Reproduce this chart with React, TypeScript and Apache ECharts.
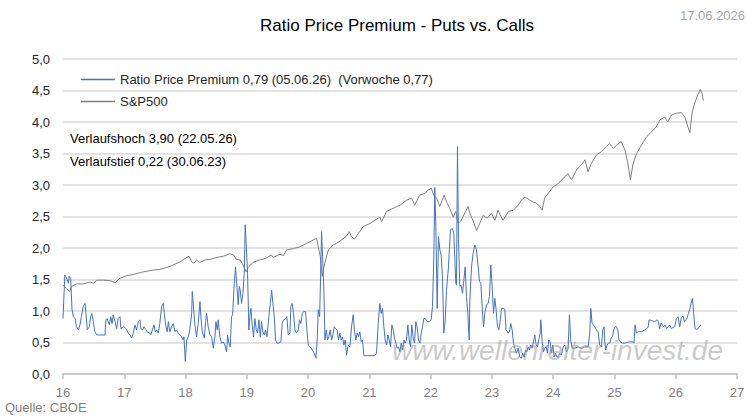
import React, { useEffect, useRef } from "react";
import * as echarts from "echarts";

const TITLE = "Ratio Price Premium - Puts vs. Calls";
const DATE_LABEL = "17.06.2026";
const SOURCE = "Quelle: CBOE";
const WATERMARK = "www.wellenreiter-invest.de";
const NOTE_HIGH = "Verlaufshoch 3,90 (22.05.26)";
const NOTE_LOW = "Verlaufstief 0,22 (30.06.23)";
const RATIO_NAME = "Ratio Price Premium 0,79 (05.06.26)  (Vorwoche 0,77)";
const SPX_NAME = "S&P500";

const X_TICKS = [16, 17, 18, 19, 20, 21, 22, 23, 24, 25, 26, 27];
const Y_TICKS = [0, 0.5, 1, 1.5, 2, 2.5, 3, 3.5, 4, 4.5, 5];

const ratioYears = [
  16.0, 16.03, 16.06, 16.09, 16.1, 16.125, 16.147, 16.17, 16.196, 16.22, 16.25, 16.277, 16.3, 16.33, 16.36, 16.375, 16.397, 16.43, 16.45, 16.47, 16.495, 16.52, 16.55, 16.62, 16.685, 16.7, 16.72, 16.756, 16.78, 16.8, 16.82, 16.85, 16.875, 16.9, 16.93, 16.946, 16.984,
  17.01, 17.04, 17.066, 17.093, 17.12, 17.147, 17.175, 17.2, 17.23, 17.256, 17.27, 17.3, 17.32, 17.354, 17.376, 17.41, 17.43, 17.46, 17.485, 17.506, 17.528, 17.555, 17.58, 17.61, 17.636, 17.653, 17.68, 17.7, 17.72, 17.745, 17.77, 17.8, 17.827, 17.85, 17.88, 17.908, 17.935, 17.963, 17.974, 17.996,
  18.02, 18.045, 18.07, 18.1, 18.11, 18.153, 18.18, 18.207, 18.235, 18.25, 18.273, 18.306, 18.327, 18.344, 18.37, 18.398, 18.425, 18.452, 18.48, 18.496, 18.517, 18.534, 18.56, 18.588, 18.615, 18.642, 18.67, 18.686, 18.708, 18.73, 18.75, 18.768, 18.795, 18.816, 18.838, 18.86, 18.876, 18.892, 18.914, 18.936, 18.958, 18.974, 18.99,
  19.012, 19.034, 19.05, 19.067, 19.088, 19.11, 19.132, 19.154, 19.175, 19.197, 19.22, 19.24, 19.263, 19.285, 19.306, 19.328, 19.36, 19.383, 19.405, 19.426, 19.448, 19.47, 19.49, 19.524, 19.556, 19.578, 19.6, 19.633, 19.654, 19.676, 19.703, 19.72, 19.74, 19.763, 19.785, 19.81, 19.84, 19.86, 19.883, 19.905, 19.926, 19.959, 19.98,
  20.003, 20.036, 20.068, 20.1, 20.128, 20.15, 20.166, 20.188, 20.204, 20.22, 20.237, 20.258, 20.275, 20.297, 20.318, 20.34, 20.36, 20.384, 20.405, 20.427, 20.448, 20.475, 20.497, 20.519, 20.54, 20.562, 20.584, 20.606, 20.628, 20.655, 20.682, 20.709, 20.736, 20.758, 20.78, 20.801, 20.823, 20.845, 20.867, 20.888, 20.91,
  21.09, 21.117, 21.144, 21.171, 21.193, 21.215, 21.237, 21.258, 21.28, 21.302, 21.324, 21.345, 21.367, 21.389, 21.41, 21.432, 21.454, 21.476, 21.498, 21.52, 21.541, 21.563, 21.585, 21.606, 21.628, 21.65, 21.672, 21.693, 21.715, 21.737, 21.759, 21.78, 21.802, 21.824, 21.846, 21.867, 21.889, 21.911, 21.943, 21.976,
  22.009, 22.03, 22.052, 22.068, 22.085, 22.107, 22.128, 22.15, 22.172, 22.193, 22.215, 22.237, 22.259, 22.291, 22.324, 22.357, 22.378, 22.4, 22.411, 22.422, 22.438, 22.455, 22.476, 22.498, 22.52, 22.542, 22.563, 22.585, 22.607, 22.629, 22.64, 22.667, 22.694, 22.721, 22.748, 22.776, 22.797, 22.819, 22.841, 22.863, 22.884, 22.911, 22.939, 22.96, 22.982,
  23.004, 23.026, 23.047, 23.069, 23.091, 23.113, 23.134, 23.156, 23.183, 23.21, 23.232, 23.265, 23.287, 23.308, 23.33, 23.352, 23.374, 23.401, 23.428, 23.455, 23.482, 23.504, 23.526, 23.548, 23.569, 23.591, 23.613, 23.635, 23.656, 23.678, 23.7, 23.722, 23.743, 23.765, 23.787, 23.798, 23.82, 23.841, 23.863, 23.885, 23.907, 23.928, 23.95, 23.972, 23.994,
  24.015, 24.037, 24.059, 24.081, 24.108, 24.135, 24.162, 24.189, 24.217, 24.244, 24.265, 24.287, 24.309, 24.352, 24.407, 24.461, 24.516, 24.57, 24.597, 24.614, 24.635, 24.657, 24.679, 24.706, 24.733, 24.76, 24.788, 24.809, 24.831, 24.842, 24.858, 24.88, 24.901, 24.923, 24.945, 24.967, 24.988,
  25.01, 25.032, 25.054, 25.075, 25.097, 25.13, 25.168, 25.195, 25.249, 25.304, 25.32, 25.336, 25.358, 25.385, 25.44, 25.494, 25.521, 25.549, 25.565, 25.603, 25.657, 25.695, 25.717, 25.739, 25.761, 25.782, 25.804, 25.826, 25.848, 25.875, 25.902, 25.929, 25.956, 25.983,
  26.011, 26.038, 26.065, 26.092, 26.119, 26.141, 26.163, 26.185, 26.206, 26.228, 26.25, 26.272, 26.293, 26.315, 26.337, 26.364, 26.391, 26.413,
];

const ratioValues = [
  0.88, 1.57, 1.52, 1.44, 1.55, 1.52, 1.02, 0.91, 0.88, 0.75, 0.7, 0.78, 0.91, 1.07, 1.12, 0.96, 0.7, 0.75, 0.91, 0.96, 0.83, 0.67, 0.62, 0.62, 0.62, 0.86, 0.88, 0.78, 0.91, 0.8, 0.94, 0.83, 0.72, 0.88, 0.91, 0.72, 0.75,
  0.74, 0.7, 0.65, 0.62, 0.57, 0.65, 0.78, 0.7, 0.83, 0.86, 0.72, 0.7, 0.75, 0.7, 0.67, 0.65, 0.62, 0.7, 0.78, 0.67, 0.7, 0.65, 0.8, 1.07, 1.12, 0.96, 0.75, 0.67, 0.83, 0.67, 0.75, 0.8, 0.67, 0.7, 0.65, 0.62, 0.59, 0.54, 0.59, 0.2,
  0.54, 0.59, 0.7, 0.96, 1.31, 0.78, 0.59, 0.8, 1.15, 0.91, 0.67, 0.57, 0.83, 0.96, 0.75, 0.62, 0.59, 0.41, 0.59, 0.83, 0.7, 0.86, 0.59, 0.49, 0.51, 0.46, 0.35, 0.62, 0.49, 0.43, 0.91, 0.94, 1.44, 1.7, 1.39, 1.1, 1.39, 1.33, 1.12, 1.28, 1.6, 2.37, 2.07,
  1.6, 0.7, 0.91, 1.04, 0.78, 0.59, 0.88, 0.7, 0.65, 0.86, 0.59, 0.83, 0.67, 0.62, 0.7, 0.59, 0.91, 1.12, 1.33, 1.12, 0.91, 0.54, 0.49, 0.49, 0.51, 0.8, 0.86, 0.88, 0.91, 0.62, 0.65, 1.07, 1.12, 0.96, 0.7, 0.65, 0.7, 0.86, 0.8, 0.96, 0.99, 0.99, 0.7,
  0.46, 0.43, 0.38, 0.33, 0.25, 0.59, 1.02, 0.91, 1.54, 2.26, 1.86, 1.33, 0.54, 0.7, 0.54, 0.59, 0.7, 0.54, 0.62, 0.75, 0.72, 0.7, 0.54, 0.65, 0.54, 0.59, 0.46, 0.54, 0.3, 0.46, 0.43, 0.75, 0.94, 0.67, 0.54, 0.65, 0.59, 0.67, 0.51, 0.54, 0.29,
  0.29, 0.33, 0.8, 1.12, 0.96, 1.04, 0.75, 0.54, 0.46, 0.62, 0.54, 0.43, 0.78, 0.7, 0.57, 0.49, 0.41, 0.43, 0.35, 0.49, 0.38, 0.54, 0.49, 0.54, 0.78, 0.54, 0.43, 0.78, 0.57, 0.49, 0.83, 0.75, 0.54, 0.49, 0.65, 0.75, 0.88, 0.88, 0.83, 0.83,
  0.86, 1.07, 1.86, 2.96, 2.34, 1.04, 2.18, 1.97, 1.89, 1.54, 0.65, 0.83, 1.33, 1.7, 2.29, 2.31, 2.23, 1.7, 1.44, 1.41, 3.61, 2.13, 1.39, 1.41, 1.28, 1.49, 1.7, 1.23, 0.96, 0.54, 1.17, 1.7, 1.92, 2.05, 1.97, 1.7, 1.47, 1.44, 1.07, 0.75, 0.96, 1.1, 1.12, 1.23, 1.73,
  1.39, 0.96, 1.2, 1.02, 0.75, 0.7, 0.83, 1.04, 1.04, 1.03, 0.7, 0.65, 0.67, 0.8, 0.7, 0.49, 0.41, 0.33, 0.41, 0.27, 0.25, 0.33, 0.27, 0.38, 0.35, 0.43, 0.38, 0.46, 0.41, 0.51, 0.62, 0.46, 0.43, 0.54, 0.65, 0.86, 0.51, 0.35, 0.41, 0.43, 0.33, 0.54, 0.51, 0.33, 0.46,
  0.27, 0.33, 0.27, 0.27, 0.33, 0.3, 0.43, 0.46, 0.35, 0.41, 0.94, 0.54, 0.41, 0.41, 0.43, 0.41, 0.43, 0.43, 0.65, 1.04, 0.8, 0.78, 0.75, 0.7, 0.67, 0.46, 0.43, 0.7, 0.75, 0.51, 0.38, 0.46, 0.49, 0.49, 0.57, 0.59, 0.7,
  0.75, 0.75, 0.7, 0.54, 0.51, 0.49, 0.49, 0.5, 0.51, 0.51, 0.49, 0.78, 0.65, 0.67, 0.67, 0.7, 0.72, 0.74, 0.86, 0.85, 0.83, 0.86, 0.83, 0.72, 0.81, 0.78, 0.75, 0.78, 0.72, 0.75, 0.78, 0.72, 0.74, 0.75,
  0.88, 0.91, 0.75, 0.9, 0.92, 0.83, 0.86, 0.88, 0.96, 1.02, 1.12, 1.2, 0.96, 0.72, 0.71, 0.72, 0.76, 0.78,
];

const spxYears = [
  16.0, 16.055, 16.11, 16.14, 16.22, 16.33, 16.44, 16.5, 16.55, 16.66, 16.77, 16.85, 16.93,
  17.04, 17.15, 17.26, 17.36, 17.47, 17.58, 17.69, 17.8, 17.91,
  18.02, 18.06, 18.1, 18.14, 18.18, 18.23, 18.32, 18.4, 18.51, 18.62, 18.72, 18.78, 18.83, 18.89, 18.94, 18.99,
  19.02, 19.1, 19.21, 19.32, 19.4, 19.43, 19.54, 19.6, 19.65, 19.76, 19.866, 19.97,
  20.11, 20.14, 20.165, 20.2, 20.23, 20.27, 20.33, 20.41, 20.46, 20.55, 20.63, 20.67, 20.71, 20.76, 20.82, 20.9,
  21.01, 21.09, 21.17, 21.2, 21.28, 21.39, 21.5, 21.61, 21.69, 21.74, 21.82, 21.91, 21.96,
  22.01, 22.05, 22.1, 22.15, 22.22, 22.26, 22.31, 22.37, 22.41, 22.45, 22.5, 22.57, 22.61, 22.65, 22.69, 22.75, 22.8, 22.86, 22.92, 22.99,
  23.05, 23.1, 23.18, 23.27, 23.35, 23.43, 23.48, 23.54, 23.62, 23.67, 23.73, 23.78, 23.82, 23.86, 23.92,
  24.0, 24.08, 24.16, 24.24, 24.3, 24.38, 24.46, 24.52, 24.57, 24.62, 24.71, 24.79, 24.87, 24.92, 24.98,
  25.03, 25.11, 25.17, 25.22, 25.26, 25.3, 25.36, 25.44, 25.52, 25.6, 25.68, 25.74, 25.82, 25.87, 25.93,
  26.01, 26.09, 26.15, 26.2, 26.23, 26.27, 26.31, 26.36, 26.4, 26.43, 26.45,
];

const spxValues = [
  1.41, 1.36, 1.31, 1.39, 1.43, 1.43, 1.46, 1.44, 1.49, 1.49, 1.48, 1.45, 1.52,
  1.56, 1.58, 1.61, 1.63, 1.65, 1.66, 1.69, 1.73, 1.78,
  1.85, 1.87, 1.78, 1.76, 1.81, 1.77, 1.81, 1.82, 1.85, 1.87, 1.91, 1.89, 1.82, 1.81, 1.73, 1.62,
  1.69, 1.77, 1.81, 1.84, 1.89, 1.85, 1.9, 1.88, 1.97, 1.99, 2.02, 2.07,
  2.14, 2.15, 2.02, 1.86, 1.55, 1.75, 1.97, 2.05, 2.07, 2.13, 2.19, 2.26, 2.18, 2.14, 2.23, 2.34,
  2.39, 2.44, 2.49, 2.42, 2.58, 2.63, 2.68, 2.76, 2.79, 2.68, 2.84, 2.87, 2.92,
  2.95, 2.84, 2.79, 2.66, 2.84, 2.73, 2.63, 2.49, 2.58, 2.39, 2.44, 2.58, 2.66, 2.52, 2.44, 2.28, 2.39, 2.52, 2.47, 2.55,
  2.44, 2.6, 2.44, 2.58, 2.6, 2.68, 2.76, 2.81, 2.76, 2.73, 2.71, 2.66, 2.6, 2.79, 2.87,
  2.97, 3.02, 3.1, 3.18, 3.08, 3.24, 3.32, 3.4, 3.21, 3.34, 3.48, 3.53, 3.61, 3.66, 3.58,
  3.63, 3.69, 3.56, 3.34, 3.08, 3.32, 3.5, 3.63, 3.76, 3.84, 3.92, 4.03, 4.08, 4.0, 4.11,
  4.14, 4.15, 4.08, 3.92, 3.83, 4.16, 4.3, 4.43, 4.52, 4.45, 4.34,
];

const ratioData = ratioYears.map((x, i) => [x, ratioValues[i]]);
const spxData = spxYears.map((x, i) => [x, spxValues[i]]);

const FONT = "Liberation Sans, Arial, sans-serif";
const NARROW = "Liberation Sans Narrow, Liberation Sans, Arial, sans-serif";
const BLUE = "#4472c4";
const GRAY = "#7f7f7f";

export default function App() {
  const ref = useRef<HTMLDivElement>(null);

  useEffect(() => {
    if (!ref.current) return;
    const chart = echarts.init(ref.current, undefined, { renderer: "svg" });
    chart.setOption({
      animation: false,
      backgroundColor: "#ffffff",
      textStyle: { fontFamily: FONT },
      grid: { left: 63, right: 11, top: 59, bottom: 44, containLabel: false },
      legend: {
        orient: "vertical",
        left: 76,
        top: 67,
        icon: "rect",
        itemWidth: 34,
        itemHeight: 1.5,
        itemGap: 7,
        textStyle: { fontSize: 13, color: "#262626", fontFamily: FONT, lineHeight: 15 },
        data: [
          { name: RATIO_NAME, itemStyle: { color: BLUE } },
          { name: SPX_NAME, itemStyle: { color: GRAY } },
        ],
      },
      xAxis: {
        type: "value",
        min: X_TICKS[0],
        max: X_TICKS[X_TICKS.length - 1],
        interval: 1,
        axisLine: { show: true, lineStyle: { color: "#bfbfbf", width: 1.5 } },
        axisTick: { show: true, length: 5, lineStyle: { color: "#bfbfbf", width: 1.5 } },
        axisLabel: { color: "#7f7f7f", fontSize: 13, fontFamily: NARROW, margin: 12 },
        splitLine: { show: false },
      },
      yAxis: {
        type: "value",
        min: Y_TICKS[0],
        max: Y_TICKS[Y_TICKS.length - 1],
        interval: 0.5,
        axisLine: { show: false },
        axisTick: { show: false },
        axisLabel: {
          color: "#262626",
          fontSize: 13,
          margin: 13,
          formatter: (v: number) => v.toFixed(1).replace(".", ","),
        },
        splitLine: { show: true, lineStyle: { color: "#d9d9d9", width: 1.5 } },
      },
      series: [
        {
          name: SPX_NAME,
          type: "line",
          data: spxData,
          symbol: "none",
          lineStyle: { color: GRAY, width: 1 },
          itemStyle: { color: GRAY },
          z: 2,
        },
        {
          name: RATIO_NAME,
          type: "line",
          data: ratioData,
          symbol: "none",
          lineStyle: { color: BLUE, width: 1 },
          itemStyle: { color: BLUE },
          z: 3,
        },
      ],
      graphic: [
        {
          type: "text",
          x: 397,
          y: 17,
          style: { text: TITLE, fontSize: 17, fill: "#000000", fontFamily: FONT, textAlign: "center" },
        },
        {
          type: "text",
          x: 680,
          y: 9,
          style: { text: DATE_LABEL, fontSize: 13, fill: "#a6a6a6", fontFamily: NARROW },
        },
        {
          type: "text",
          x: 70,
          y: 132,
          style: { text: NOTE_HIGH, fontSize: 13, fill: "#000000", fontFamily: FONT },
        },
        {
          type: "text",
          x: 70,
          y: 155,
          style: { text: NOTE_LOW, fontSize: 13, fill: "#000000", fontFamily: FONT },
        },
        {
          type: "text",
          x: 5,
          y: 401,
          style: { text: SOURCE, fontSize: 13, fill: "#7f7f7f", fontFamily: NARROW },
        },
        {
          type: "text",
          x: 392,
          y: 336,
          z: 100,
          style: {
            text: WATERMARK,
            fontSize: 28,
            fontStyle: "italic",
            fill: "rgba(150,150,150,0.5)",
            fontFamily: FONT,
          },
        },
      ],
    });
    return () => chart.dispose();
  }, []);

  return (
    <div
      ref={ref}
      style={{ position: "absolute", left: 0, top: 0, width: 748, height: 418 }}
    />
  );
}
